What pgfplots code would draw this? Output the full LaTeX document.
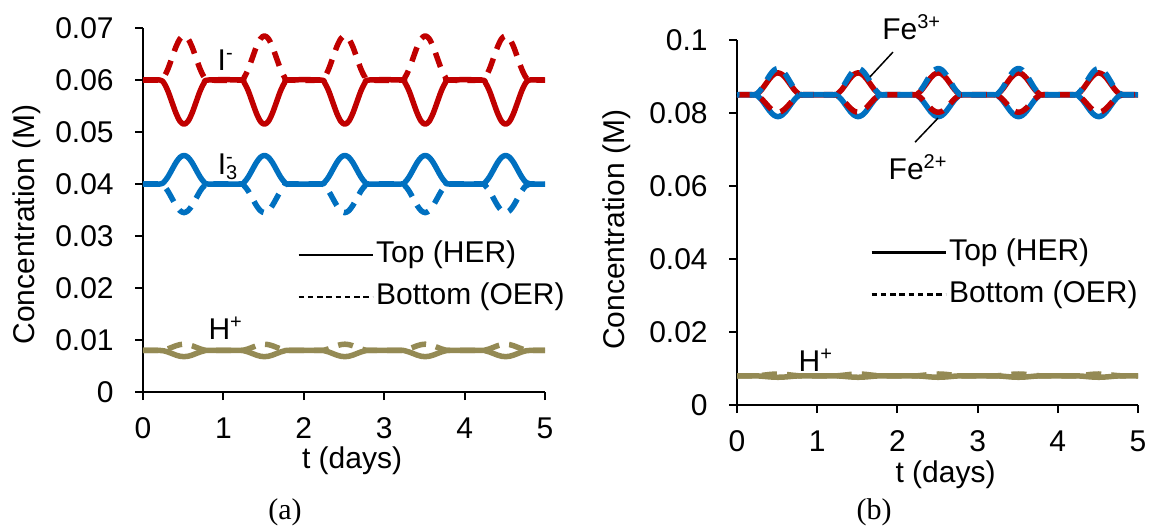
\documentclass[border=0pt]{standalone}
\usepackage{pgfplots}
\pgfplotsset{compat=1.18}
\usepackage{pgfplotstable}
\usepackage{fontspec}
\setmainfont{Liberation Sans}
\newfontfamily\serifA{Liberation Serif}
\definecolor{cred}{RGB}{192,0,0}
\definecolor{cblue}{RGB}{0,112,192}
\definecolor{colive}{RGB}{148,138,84}
\newcommand\fs{\fontsize{12}{14}\selectfont}

% panel (a): t, I- top, I- bottom, I3- top, I3- bottom, H+ top, H+ bottom
\pgfplotstableread{
t Itop Ibot Jtop Jbot Htop Hbot
0 0.06 0.06 0.04 0.04 0.008 0.008
0.21 0.06 0.06 0.04 0.04 0.008 0.008
0.26 0.05943 0.06057 0.04037 0.03963 0.00792 0.00808
0.31 0.05788 0.06213 0.04138 0.03863 0.0077 0.0083
0.36 0.05575 0.06425 0.04275 0.03725 0.0074 0.0086
0.41 0.05363 0.06638 0.04413 0.03588 0.0071 0.0089
0.46 0.05207 0.06793 0.04513 0.03487 0.00688 0.00912
0.51 0.0515 0.0685 0.0455 0.0345 0.0068 0.0092
0.56 0.05207 0.06793 0.04513 0.03487 0.00688 0.00912
0.61 0.05363 0.06638 0.04413 0.03588 0.0071 0.0089
0.66 0.05575 0.06425 0.04275 0.03725 0.0074 0.0086
0.71 0.05788 0.06213 0.04138 0.03863 0.0077 0.0083
0.76 0.05943 0.06057 0.04037 0.03963 0.00792 0.00808
0.81 0.06 0.06 0.04 0.04 0.008 0.008
1.21 0.06 0.06 0.04 0.04 0.008 0.008
1.26 0.05943 0.06057 0.04037 0.03963 0.00792 0.00808
1.31 0.05788 0.06213 0.04138 0.03863 0.0077 0.0083
1.36 0.05575 0.06425 0.04275 0.03725 0.0074 0.0086
1.41 0.05363 0.06638 0.04413 0.03588 0.0071 0.0089
1.46 0.05207 0.06793 0.04513 0.03487 0.00688 0.00912
1.51 0.0515 0.0685 0.0455 0.0345 0.0068 0.0092
1.56 0.05207 0.06793 0.04513 0.03487 0.00688 0.00912
1.61 0.05363 0.06638 0.04413 0.03588 0.0071 0.0089
1.66 0.05575 0.06425 0.04275 0.03725 0.0074 0.0086
1.71 0.05788 0.06213 0.04138 0.03863 0.0077 0.0083
1.76 0.05943 0.06057 0.04037 0.03963 0.00792 0.00808
1.81 0.06 0.06 0.04 0.04 0.008 0.008
2.21 0.06 0.06 0.04 0.04 0.008 0.008
2.26 0.05943 0.06057 0.04037 0.03963 0.00792 0.00808
2.31 0.05788 0.06213 0.04138 0.03863 0.0077 0.0083
2.36 0.05575 0.06425 0.04275 0.03725 0.0074 0.0086
2.41 0.05363 0.06638 0.04413 0.03588 0.0071 0.0089
2.46 0.05207 0.06793 0.04513 0.03487 0.00688 0.00912
2.51 0.0515 0.0685 0.0455 0.0345 0.0068 0.0092
2.56 0.05207 0.06793 0.04513 0.03487 0.00688 0.00912
2.61 0.05363 0.06638 0.04413 0.03588 0.0071 0.0089
2.66 0.05575 0.06425 0.04275 0.03725 0.0074 0.0086
2.71 0.05788 0.06213 0.04138 0.03863 0.0077 0.0083
2.76 0.05943 0.06057 0.04037 0.03963 0.00792 0.00808
2.81 0.06 0.06 0.04 0.04 0.008 0.008
3.21 0.06 0.06 0.04 0.04 0.008 0.008
3.26 0.05943 0.06057 0.04037 0.03963 0.00792 0.00808
3.31 0.05788 0.06213 0.04138 0.03863 0.0077 0.0083
3.36 0.05575 0.06425 0.04275 0.03725 0.0074 0.0086
3.41 0.05363 0.06638 0.04413 0.03588 0.0071 0.0089
3.46 0.05207 0.06793 0.04513 0.03487 0.00688 0.00912
3.51 0.0515 0.0685 0.0455 0.0345 0.0068 0.0092
3.56 0.05207 0.06793 0.04513 0.03487 0.00688 0.00912
3.61 0.05363 0.06638 0.04413 0.03588 0.0071 0.0089
3.66 0.05575 0.06425 0.04275 0.03725 0.0074 0.0086
3.71 0.05788 0.06213 0.04138 0.03863 0.0077 0.0083
3.76 0.05943 0.06057 0.04037 0.03963 0.00792 0.00808
3.81 0.06 0.06 0.04 0.04 0.008 0.008
4.21 0.06 0.06 0.04 0.04 0.008 0.008
4.26 0.05943 0.06057 0.04037 0.03963 0.00792 0.00808
4.31 0.05788 0.06213 0.04138 0.03863 0.0077 0.0083
4.36 0.05575 0.06425 0.04275 0.03725 0.0074 0.0086
4.41 0.05363 0.06638 0.04413 0.03588 0.0071 0.0089
4.46 0.05207 0.06793 0.04513 0.03487 0.00688 0.00912
4.51 0.0515 0.0685 0.0455 0.0345 0.0068 0.0092
4.56 0.05207 0.06793 0.04513 0.03487 0.00688 0.00912
4.61 0.05363 0.06638 0.04413 0.03588 0.0071 0.0089
4.66 0.05575 0.06425 0.04275 0.03725 0.0074 0.0086
4.71 0.05788 0.06213 0.04138 0.03863 0.0077 0.0083
4.76 0.05943 0.06057 0.04037 0.03963 0.00792 0.00808
4.81 0.06 0.06 0.04 0.04 0.008 0.008
5 0.06 0.06 0.04 0.04 0.008 0.008
}\tabA

% panel (b): t, Fe3+ top, Fe3+ bottom, Fe2+ top, Fe2+ bottom, H+ top, H+ bottom
\pgfplotstableread{
t Atop Abot Btop Bbot Htop Hbot
0 0.085 0.085 0.085 0.085 0.008 0.008
0.21 0.085 0.085 0.085 0.085 0.008 0.008
0.26 0.0854 0.08468 0.0846 0.08548 0.00797 0.00803
0.31 0.0865 0.0838 0.0835 0.0868 0.0079 0.00813
0.36 0.088 0.0826 0.082 0.0886 0.0078 0.00825
0.41 0.0895 0.0814 0.0805 0.0904 0.0077 0.00838
0.46 0.0906 0.08052 0.0794 0.09172 0.00763 0.00847
0.51 0.091 0.0802 0.079 0.0922 0.0076 0.0085
0.56 0.0906 0.08052 0.0794 0.09172 0.00763 0.00847
0.61 0.0895 0.0814 0.0805 0.0904 0.0077 0.00838
0.66 0.088 0.0826 0.082 0.0886 0.0078 0.00825
0.71 0.0865 0.0838 0.0835 0.0868 0.0079 0.00813
0.76 0.0854 0.08468 0.0846 0.08548 0.00797 0.00803
0.81 0.085 0.085 0.085 0.085 0.008 0.008
1.21 0.085 0.085 0.085 0.085 0.008 0.008
1.26 0.0854 0.08468 0.0846 0.08548 0.00797 0.00803
1.31 0.0865 0.0838 0.0835 0.0868 0.0079 0.00813
1.36 0.088 0.0826 0.082 0.0886 0.0078 0.00825
1.41 0.0895 0.0814 0.0805 0.0904 0.0077 0.00838
1.46 0.0906 0.08052 0.0794 0.09172 0.00763 0.00847
1.51 0.091 0.0802 0.079 0.0922 0.0076 0.0085
1.56 0.0906 0.08052 0.0794 0.09172 0.00763 0.00847
1.61 0.0895 0.0814 0.0805 0.0904 0.0077 0.00838
1.66 0.088 0.0826 0.082 0.0886 0.0078 0.00825
1.71 0.0865 0.0838 0.0835 0.0868 0.0079 0.00813
1.76 0.0854 0.08468 0.0846 0.08548 0.00797 0.00803
1.81 0.085 0.085 0.085 0.085 0.008 0.008
2.21 0.085 0.085 0.085 0.085 0.008 0.008
2.26 0.0854 0.08468 0.0846 0.08548 0.00797 0.00803
2.31 0.0865 0.0838 0.0835 0.0868 0.0079 0.00813
2.36 0.088 0.0826 0.082 0.0886 0.0078 0.00825
2.41 0.0895 0.0814 0.0805 0.0904 0.0077 0.00838
2.46 0.0906 0.08052 0.0794 0.09172 0.00763 0.00847
2.51 0.091 0.0802 0.079 0.0922 0.0076 0.0085
2.56 0.0906 0.08052 0.0794 0.09172 0.00763 0.00847
2.61 0.0895 0.0814 0.0805 0.0904 0.0077 0.00838
2.66 0.088 0.0826 0.082 0.0886 0.0078 0.00825
2.71 0.0865 0.0838 0.0835 0.0868 0.0079 0.00813
2.76 0.0854 0.08468 0.0846 0.08548 0.00797 0.00803
2.81 0.085 0.085 0.085 0.085 0.008 0.008
3.21 0.085 0.085 0.085 0.085 0.008 0.008
3.26 0.0854 0.08468 0.0846 0.08548 0.00797 0.00803
3.31 0.0865 0.0838 0.0835 0.0868 0.0079 0.00813
3.36 0.088 0.0826 0.082 0.0886 0.0078 0.00825
3.41 0.0895 0.0814 0.0805 0.0904 0.0077 0.00838
3.46 0.0906 0.08052 0.0794 0.09172 0.00763 0.00847
3.51 0.091 0.0802 0.079 0.0922 0.0076 0.0085
3.56 0.0906 0.08052 0.0794 0.09172 0.00763 0.00847
3.61 0.0895 0.0814 0.0805 0.0904 0.0077 0.00838
3.66 0.088 0.0826 0.082 0.0886 0.0078 0.00825
3.71 0.0865 0.0838 0.0835 0.0868 0.0079 0.00813
3.76 0.0854 0.08468 0.0846 0.08548 0.00797 0.00803
3.81 0.085 0.085 0.085 0.085 0.008 0.008
4.21 0.085 0.085 0.085 0.085 0.008 0.008
4.26 0.0854 0.08468 0.0846 0.08548 0.00797 0.00803
4.31 0.0865 0.0838 0.0835 0.0868 0.0079 0.00813
4.36 0.088 0.0826 0.082 0.0886 0.0078 0.00825
4.41 0.0895 0.0814 0.0805 0.0904 0.0077 0.00838
4.46 0.0906 0.08052 0.0794 0.09172 0.00763 0.00847
4.51 0.091 0.0802 0.079 0.0922 0.0076 0.0085
4.56 0.0906 0.08052 0.0794 0.09172 0.00763 0.00847
4.61 0.0895 0.0814 0.0805 0.0904 0.0077 0.00838
4.66 0.088 0.0826 0.082 0.0886 0.0078 0.00825
4.71 0.0865 0.0838 0.0835 0.0868 0.0079 0.00813
4.76 0.0854 0.08468 0.0846 0.08548 0.00797 0.00803
4.81 0.085 0.085 0.085 0.085 0.008 0.008
5 0.085 0.085 0.085 0.085 0.008 0.008
}\tabB

\pgfplotsset{
  myaxis/.style={
    scale only axis,
    axis lines=left,
    axis line style={-, line width=0.8pt, black},
    tick align=outside,
    major tick length=3.2pt,
    tick style={black, line width=0.8pt},
    xmin=0, xmax=5, xtick={0,1,2,3,4,5},
    /pgf/number format/assume math mode=true,
    tick label style={font=\fs},
    xticklabel style={yshift=-3.5pt},
    yticklabel style={xshift=-5pt},
    label style={font=\fs},
    scaled y ticks=false,
    clip=false,
    legend cell align=left,
    legend image code/.code={\draw[##1] (0pt,0pt) -- (29.6pt,0pt);},
  },
  sol/.style={line width=2.2pt, smooth, tension=0.5, line join=round, forget plot},
  das/.style={line width=2.2pt, smooth, tension=0.5, line join=round, dash pattern=on 6pt off 4pt, forget plot},
}

\begin{document}
\begin{tikzpicture}[font=\fs]
\useasboundingbox (0pt,0pt) rectangle (459.6pt,-210pt);

% ---------------- panel (a)
\begin{axis}[myaxis,
  at={(57.2pt,-156.8pt)}, anchor=south west,
  width=160.8pt, height=145.6pt,
  ymin=0, ymax=0.07,
  ytick={0,0.01,0.02,0.03,0.04,0.05,0.06,0.07},
  yticklabels={0,0.01,0.02,0.03,0.04,0.05,0.06,0.07},
  xlabel={t (days)},
  ylabel={Concentration (M)},
  xlabel style={at={(axis description cs:0.52,-0.19)}, anchor=center},
  ylabel style={at={(axis description cs:-0.2886,0.46)}, anchor=center},
  legend style={at={(axis cs:1.915,0.0223)}, anchor=west, draw=none, fill=none,
    inner sep=0pt, row sep=3.8pt, font=\fs,
    nodes={inner sep=1pt, text height=8.6pt, text depth=2.4pt, anchor=west}},
]
\addplot[das, cred] table[x=t, y=Ibot] {\tabA};
\addplot[sol, cred] table[x=t, y=Itop] {\tabA};
\addplot[das, cblue] table[x=t, y=Jbot] {\tabA};
\addplot[sol, cblue] table[x=t, y=Jtop] {\tabA};
\addplot[das, colive] table[x=t, y=Hbot] {\tabA};
\addplot[sol, colive] table[x=t, y=Htop] {\tabA};
\addlegendimage{black, line width=0.9pt}
\addlegendentry{Top (HER)}
\addlegendimage{black, line width=0.9pt, dash pattern=on 2.2pt off 1.5pt}
\addlegendentry{Bottom (OER)}
\node[font=\fs] at (axis cs:1.03,0.0638) {I\textsuperscript{-}};
\node[font=\fs] at (axis cs:1.06,0.0433) {I\rlap{\textsuperscript{-}}\textsubscript{3}};
\node[font=\fs] at (axis cs:1.03,0.0123) {H\textsuperscript{+}};
\end{axis}

% ---------------- panel (b)
\begin{axis}[myaxis,
  at={(294.8pt,-162pt)}, anchor=south west,
  width=160.4pt, height=146pt,
  ymin=0, ymax=0.1,
  ytick={0,0.02,0.04,0.06,0.08,0.1},
  yticklabels={0,0.02,0.04,0.06,0.08,0.1},
  xlabel={t (days)},
  ylabel={Concentration (M)},
  xlabel style={at={(axis description cs:0.52,-0.19)}, anchor=center},
  ylabel style={at={(axis description cs:-0.299,0.48)}, anchor=center},
  legend style={at={(axis cs:1.658,0.036)}, anchor=west, draw=none, fill=none,
    inner sep=0pt, row sep=3.8pt, font=\fs,
    nodes={inner sep=1pt, text height=8.6pt, text depth=2.4pt, anchor=west}},
]
\addplot[sol, cred] table[x=t, y=Atop] {\tabB};
\addplot[sol, cblue] table[x=t, y=Btop] {\tabB};
\addplot[das, cred] table[x=t, y=Abot] {\tabB};
\addplot[das, cblue, dash phase=5pt] table[x=t, y=Bbot] {\tabB};
\addplot[das, colive] table[x=t, y=Hbot] {\tabB};
\addplot[sol, colive] table[x=t, y=Htop] {\tabB};
\addlegendimage{black, line width=0.9pt}
\addlegendentry{Top (HER)}
\addlegendimage{black, line width=0.9pt, dash pattern=on 2.2pt off 1.5pt}
\addlegendentry{Bottom (OER)}
\node[font=\fs] at (axis cs:2.18,0.1036) {Fe\textsuperscript{3+}};
\draw[black, line width=0.6pt] (axis cs:1.945,0.0967) -- (axis cs:1.658,0.0899);
\node[font=\fs] at (axis cs:2.26,0.0652) {Fe\textsuperscript{2+}};
\draw[black, line width=0.6pt] (axis cs:2.506,0.0786) -- (axis cs:2.22,0.072);
\node[font=\fs] at (axis cs:0.985,0.0123) {H\textsuperscript{+}};
\end{axis}

\node[font={\serifA\fontsize{12}{14}\selectfont}] at (114pt,-204.8pt) {(a)};
\node[font={\serifA\fontsize{12}{14}\selectfont}] at (349.6pt,-204.8pt) {(b)};
\end{tikzpicture}
\end{document}
